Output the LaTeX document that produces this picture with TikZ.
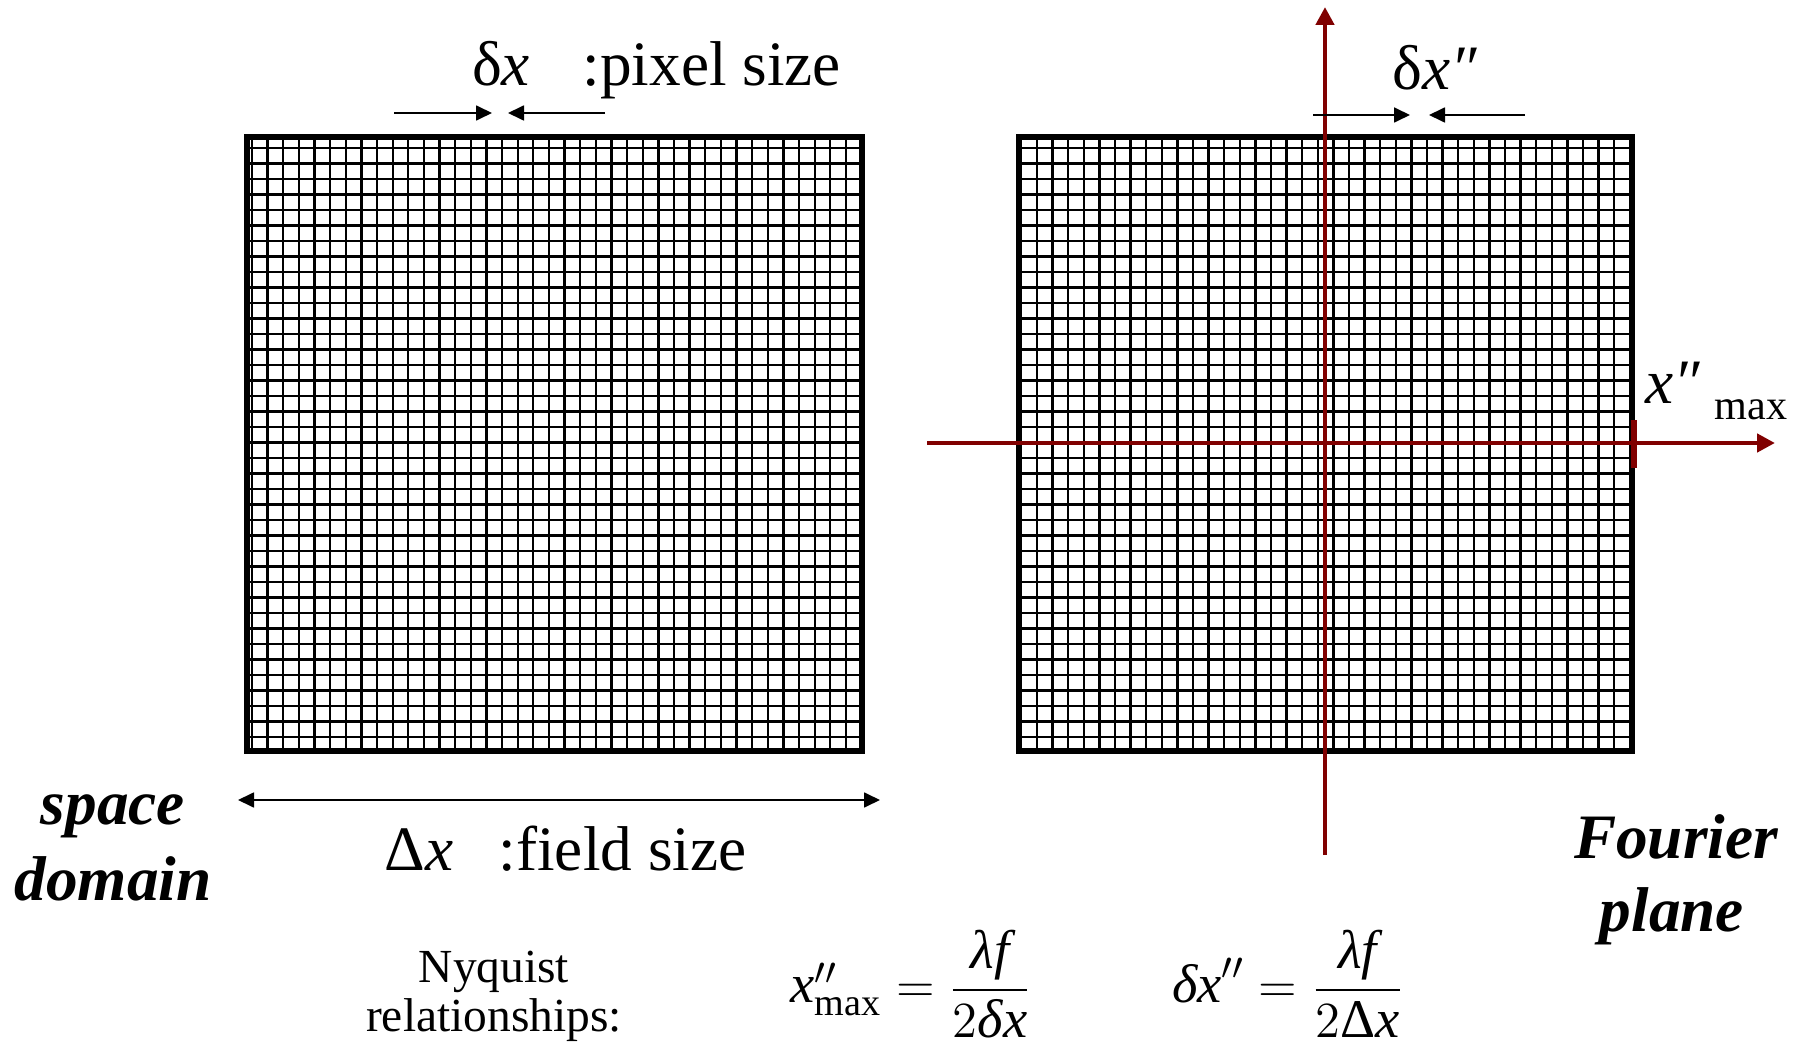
\documentclass[tikz,border=0pt]{standalone}
\usepackage{amsmath}
\usepackage{fontspec}
\setmainfont{Liberation Serif}
\usepackage{tikz}
\usetikzlibrary{arrows.meta, positioning, calc}
\definecolor{axisred}{RGB}{128, 0, 0}
\newcommand{\labelsize}{\fontsize{18}{21.6}\selectfont}
\newcommand{\subsize}{\fontsize{12}{14}\selectfont}
\newcommand{\notesize}{\fontsize{13.5}{16}\selectfont}
\newcommand{\eqsize}{\fontsize{15.5}{18}\selectfont}

\begin{document}
\begin{tikzpicture}[x=1cm, y=-1cm,
    frame/.style={line width=1.7pt},
    gridline/.style={line width=0.65pt},
    dimarrow/.style={-{Triangle[length=1.6mm, width=1.5mm]}, line width=0.5pt},
    axis/.style={axisred, line width=1.4pt,
        -{Triangle[length=1.8mm, width=1.8mm]}},
    lbl/.style={font=\labelsize, inner sep=0pt},
    panel/.style={font=\labelsize\bfseries\itshape, inner sep=0pt, anchor=base},
    note/.style={font=\notesize, inner sep=0pt, anchor=base},
    eq/.style={font=\eqsize, inner sep=0pt}
]
    \useasboundingbox (0,0) rectangle (18.06,10.51);

    % space domain grid
    \coordinate (lbox-nw) at (2.47,1.37);
    \coordinate (lbox-se) at (8.62,7.51);
    \foreach \i in {0,...,38}
        \draw[gridline] ({2.52+0.1563*\i},1.37) -- ({2.52+0.1563*\i},7.51);
    \foreach \j in {0,...,38}
        \draw[gridline] (2.47,{1.48+0.155*\j}) -- (8.62,{1.48+0.155*\j});
    \draw[frame] (lbox-nw) rectangle (lbox-se);

    % Fourier plane grid
    \coordinate (rbox-nw) at (10.19,1.37);
    \coordinate (rbox-se) at (16.32,7.51);
    \foreach \i in {0,...,37}
        \draw[gridline] ({10.37+0.156*\i},1.37) -- ({10.37+0.156*\i},7.51);
    \foreach \j in {0,...,38}
        \draw[gridline] (10.19,{1.48+0.155*\j}) -- (16.32,{1.48+0.155*\j});
    \draw[frame] (rbox-nw) rectangle (rbox-se);

    % axes
    \coordinate (vaxis-bot) at (13.25,8.55);
    \coordinate (vaxis-top) at (13.25,0.07);
    \coordinate (haxis-left) at (9.27,4.43);
    \coordinate (haxis-right) at (17.75,4.43);
    \draw[axis] (vaxis-bot) -- (vaxis-top);
    \draw[axis] (haxis-left) -- (haxis-right);
    \coordinate (tick-top) at (16.34,4.20);
    \coordinate (tick-bot) at (16.34,4.68);
    \draw[axisred, line width=1.5pt] (tick-top) -- (tick-bot);

    % pixel size
    \coordinate (pxa-tail) at (3.94,1.13);
    \coordinate (pxa-tip) at (4.92,1.13);
    \coordinate (pxb-tail) at (6.05,1.13);
    \coordinate (pxb-tip) at (5.08,1.13);
    \draw[dimarrow] (pxa-tail) -- (pxa-tip);
    \draw[dimarrow] (pxb-tail) -- (pxb-tip);
    \node[lbl, anchor=base] (dx) at (5.01,0.86) {δ\textit{x}};
    \node[lbl, anchor=base west] (pixlbl) at (5.82,0.86) {:pixel size};

    % frequency pixel
    \coordinate (fqa-tail) at (13.13,1.15);
    \coordinate (fqa-tip) at (14.10,1.15);
    \coordinate (fqb-tail) at (15.25,1.15);
    \coordinate (fqb-tip) at (14.29,1.15);
    \draw[dimarrow] (fqa-tail) -- (fqa-tip);
    \draw[dimarrow] (fqb-tail) -- (fqb-tip);
    \node[lbl, anchor=base] (dxpp) at (14.35,0.90) {δ\textit{x″}};

    \node[lbl, anchor=base west] (xpp) at (16.45,4.03) {\textit{x″}};
    \node[font=\subsize, inner sep=0pt, anchor=base west] (xmax) at (17.14,4.20) {max};

    % field size
    \coordinate (fs-left) at (2.38,8.00);
    \coordinate (fs-right) at (8.80,8.00);
    \draw[dimarrow, {Triangle[length=1.6mm, width=1.5mm]}-{Triangle[length=1.6mm, width=1.5mm]}] (fs-left) -- (fs-right);
    \node[lbl, anchor=base west] (Dx) at (3.84,8.70) {Δ\textit{x}};
    \node[lbl, anchor=base west] (fieldlbl) at (4.98,8.70) {:field size};

    \node[panel] (space) at (1.13,8.24) {space};
    \node[panel] (domain) at (1.13,9.00) {domain};
    \node[panel] (fourier) at (16.76,8.58) {Fourier};
    \node[panel] (plane) at (16.72,9.31) {plane};

    % Nyquist
    \node[note] (nyq) at (4.94,9.82) {Nyquist};
    \node[note] (rel) at (4.94,10.31) {relationships:};
    \node[eq] (eqmax) at (9.11,9.84)
        {$\text{\itshape x}''_{\text{max}} = \dfrac{\text{\itshape λf}}{2\text{\itshape δx}}$};
    \node[eq] (eqdelta) at (12.88,9.84)
        {$\text{\itshape δx}'' = \dfrac{\text{\itshape λf}}{2\text{Δ}\text{\itshape x}}$};
\end{tikzpicture}
\end{document}
